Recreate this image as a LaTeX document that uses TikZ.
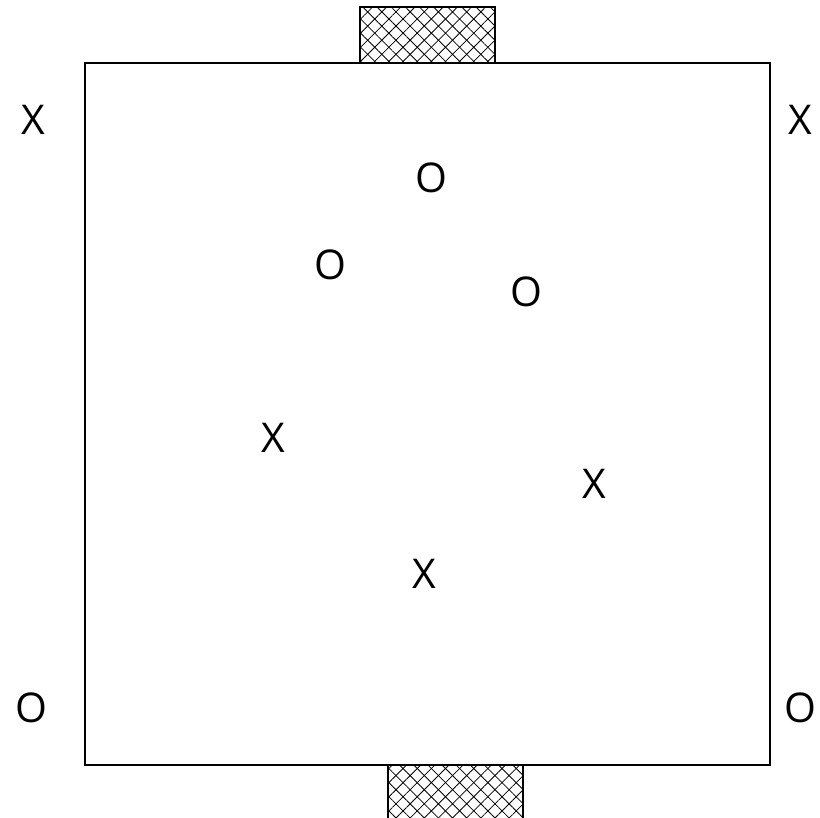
\documentclass[tikz,border=0pt]{standalone}
\usepackage{fontspec}
\setmainfont{Open Sans}
\usepackage{tikz}
\usetikzlibrary{patterns.meta}
\tikzstyle{letter}  = [font=\fontsize{41}{41}\selectfont, inner sep=0pt, anchor=center]
\tikzstyle{board}   = [draw=black, line width=2pt]
\tikzstyle{hatchA}  = [pattern={Lines[angle=45, distance=10pt, line width=0.8pt]}]
\tikzstyle{hatchB}  = [pattern={Lines[angle=-45, distance=10pt, line width=0.8pt]}]

\begin{document}
\begin{tikzpicture}[x=1pt, y=-1pt]
  \useasboundingbox (0,0) rectangle (820,818);
  \begin{scope}
    \clip (0,0) rectangle (820,818);
    % goals
    \fill[hatchA] (360,7) rectangle (495,63);
    \fill[hatchB] (360,7) rectangle (495,63);
    \draw[line width=2pt] (360,63) -- (360,7) -- (495,7) -- (495,63);
    \fill[hatchA] (388,765) rectangle (523,830);
    \fill[hatchB] (388,765) rectangle (523,830);
    \draw[line width=2pt] (388,765) -- (388,830) (523,765) -- (523,830);
  \end{scope}
  % field
  \draw[board] (85,63) rectangle (770,765);

  \node (xlt) [letter] at (33,120)  {X};
  \node (xrt) [letter] at (800,120) {X};
  \node (olb) [letter] at (31,708)  {O};
  \node (orb) [letter] at (800,708) {O};

  \node (o1) [letter] at (431,178) {O};
  \node (o2) [letter] at (330,265) {O};
  \node (o3) [letter] at (526,292) {O};
  \node (x1) [letter] at (273,438) {X};
  \node (x2) [letter] at (594,484) {X};
  \node (x3) [letter] at (424,574) {X};
\end{tikzpicture}
\end{document}
